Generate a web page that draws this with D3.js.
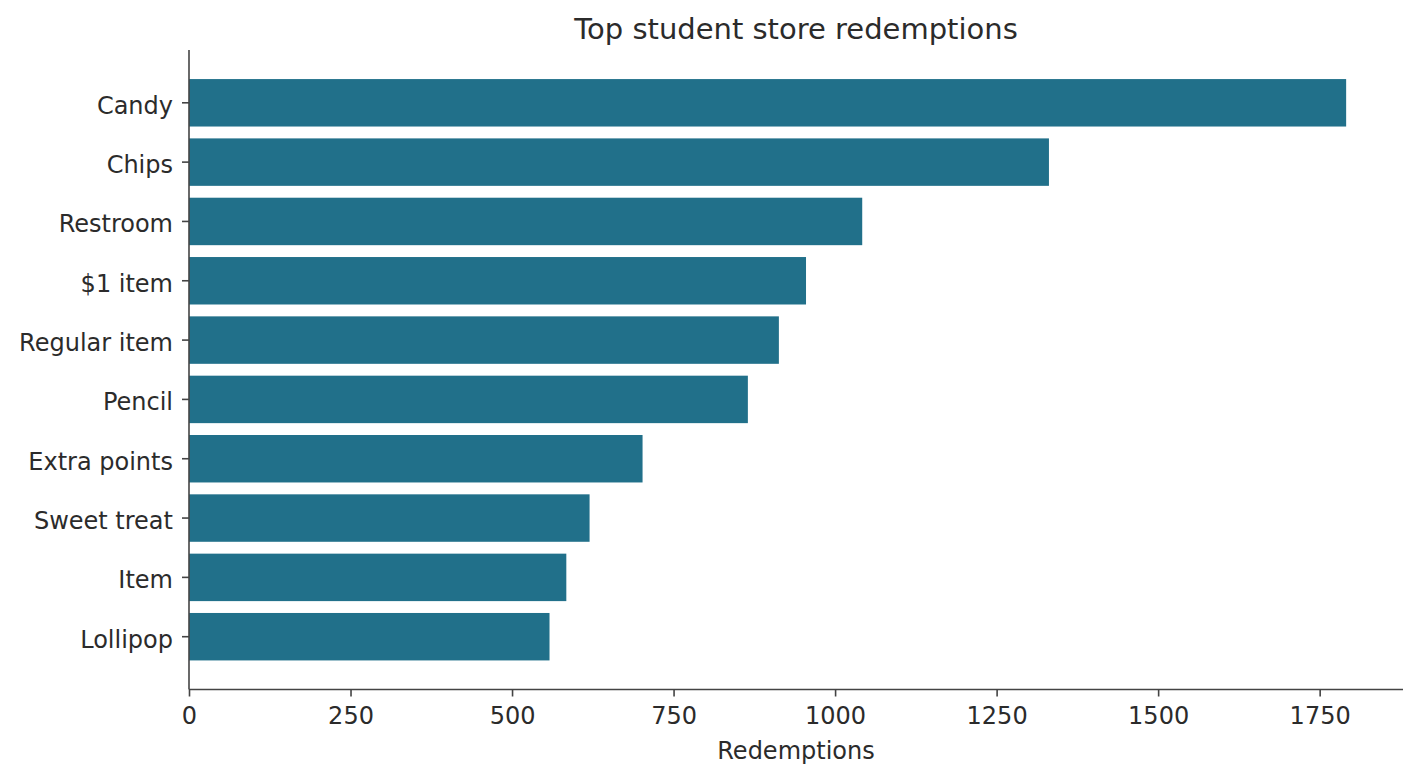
<!DOCTYPE html>
<html lang="en">
<head>
    <meta charset="UTF-8">
    <script src="https://d3js.org/d3.v7.min.js"></script>
    <title>Top student store redemptions</title>
    <style>
        html,
        body {
            margin: 0px;
            padding: 0px;
            background-color: #ffffff;
            font-family: "DejaVu Sans", sans-serif;
            color: #262626;
        }
    </style>
</head>
<body>
    <div id='chart'></div>
    <script>

        // values
        const items = ['Candy', 'Chips', 'Restroom', '$1 item', 'Regular item',
                       'Pencil', 'Extra points', 'Sweet treat', 'Item', 'Lollipop'];
        const redemptions = [1791, 1331, 1042, 955, 913, 865, 702, 620, 584, 558];
        const xTicks = [0, 250, 500, 750, 1000, 1250, 1500, 1750];

        const width = 1418;
        const height = 778;
        const margin = {top: 50, right: 15, bottom: 88.5, left: 189};

        const rows = items.map((d, i) => ({item: d, value: redemptions[i]}));

        let svg = d3.select('#chart').append('svg')
            .attr('width', width)
            .attr('height', height);

        let x = d3.scaleLinear()
            .domain([0, 1879])
            .range([margin.left, width - margin.right]);

        let y = d3.scaleBand()
            .domain(items)
            .range([margin.top, height - margin.bottom])
            .paddingInner(0.2)
            .paddingOuter(0.49);

        svg.append('g')
            .selectAll('rect')
            .data(rows)
            .join('rect')
            .attr('x', x(0))
            .attr('y', d => y(d.item))
            .attr('width', d => x(d.value) - x(0))
            .attr('height', y.bandwidth())
            .attr('fill', '#21708a');

        let xAxis = svg.append('g')
            .attr('transform', `translate(0,${height - margin.bottom})`)
            .call(d3.axisBottom(x).tickValues(xTicks).tickSize(7).tickPadding(10).tickFormat(d3.format('d')));

        let yAxis = svg.append('g')
            .attr('transform', `translate(${margin.left},0)`)
            .call(d3.axisLeft(y).tickSize(7).tickPadding(9));

        [xAxis, yAxis].forEach(a => {
            a.select('.domain').attr('stroke', '#444').attr('stroke-width', 1.6);
            a.selectAll('.tick line').attr('stroke', '#444').attr('stroke-width', 1.6);
            a.selectAll('.tick text')
                .attr('fill', '#2b2b2b')
                .style('font-family', '"DejaVu Sans", sans-serif')
                .style('font-size', '24px');
        });
        yAxis.selectAll('.tick text').attr('dy', '0.45em');

        // plain spines without the outer ticks d3 adds
        xAxis.select('.domain').attr('d', `M${x.range()[0]},0H${x.range()[1]}`);
        yAxis.select('.domain').attr('d', `M0,${y.range()[0]}V${y.range()[1]}`);

        svg.append('text')
            .attr('x', (x.range()[0] + x.range()[1]) / 2)
            .attr('y', 38.5)
            .attr('text-anchor', 'middle')
            .attr('fill', '#2b2b2b')
            .style('font-size', '29px')
            .text('Top student store redemptions');

        svg.append('text')
            .attr('x', (x.range()[0] + x.range()[1]) / 2)
            .attr('y', 759)
            .attr('text-anchor', 'middle')
            .attr('fill', '#2b2b2b')
            .style('font-size', '24px')
            .text('Redemptions');

    </script>
</body>
</html>
